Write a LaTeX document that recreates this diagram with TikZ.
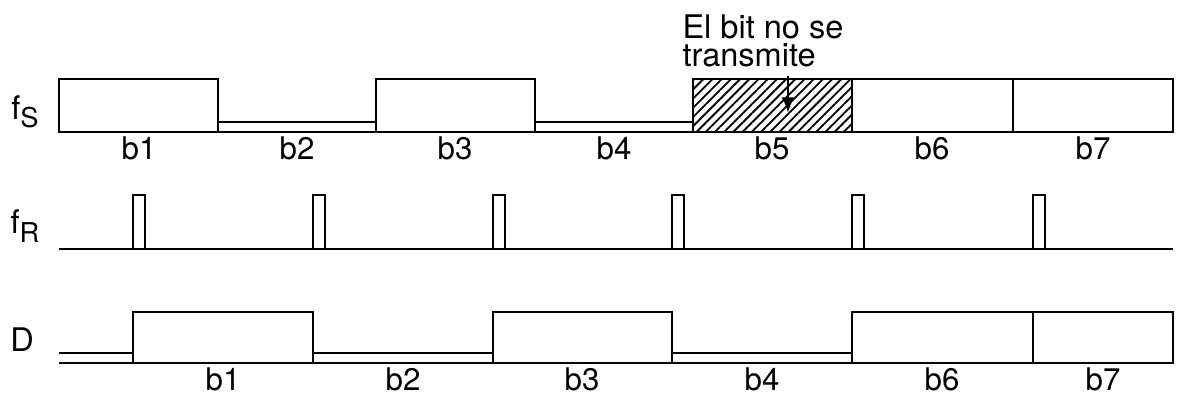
\documentclass[tikz,border=0pt]{standalone}
\usepackage{fontspec}
\setmainfont{TeX Gyre Heros}
\usetikzlibrary{patterns.meta,arrows.meta}

\newcommand{\sub}[1]{\raisebox{-0.5ex}{\fontsize{10.5}{10.5}\selectfont #1}}

\begin{document}
\begin{tikzpicture}[
		x=0.0135cm, y=-0.0135cm,
		sig/.style={line width=1.05pt},
		bit/.style={font=\fontsize{12}{14}\selectfont, anchor=base, inner sep=0pt},
		signame/.style={font=\fontsize{12.5}{14}\selectfont},
		hatched/.style={pattern={Lines[angle=45,distance=2.5pt,line width=0.7pt]}},
		pointer/.style={line width=1.05pt, -{Latex[length=6pt,width=5pt]}}]
	\useasboundingbox (0,0) rectangle (1185,396);
	% transmitter clock f_S
	\node[signame] (fs) at (25,112) {f\sub{S}};
	\draw[sig] (59,132) -- (1173,132);
	\foreach \a/\b in {59/218,376/535,852/1013,1013/1173}
		\draw[sig] (\a,79) rectangle (\b,132);
	\foreach \a/\b in {218/376,535/693}
		\draw[sig] (\a,122) -- (\b,122);
	\draw[sig,hatched] (693,79) rectangle (852,132);
	\foreach \x/\t in {139/b1,297/b2,455/b3,614/b4,772/b5,932/b6,1093/b7}
		\node[bit] (s\t) at (\x,160) {\t};
	\node[signame, align=left, anchor=north west, inner sep=0pt,
		font=\fontsize{12.5}{11}\selectfont] (note) at (682,14) {El bit no se\\transmite};
	\coordinate (tip) at (788,113);
	\draw[pointer] ([yshift=-3pt]note.south -| tip) -- (tip);
	% receiver clock f_R
	\node[signame] (fr) at (25,226) {f\sub{R}};
	\draw[sig] (59,249) -- (1173,249);
	\foreach \x in {133,313,493,672,852,1033}
		\draw[sig] (\x,249) rectangle (\x+12,195);
	% recovered data D
	\node[signame] (d) at (22,340) {D};
	\draw[sig] (59,363) -- (1173,363);
	\draw[sig] (59,353) -- (133,353);
	\foreach \a/\b in {133/313,493/672,852/1033,1033/1173}
		\draw[sig] (\a,312) rectangle (\b,363);
	\foreach \a/\b in {313/493,672/852}
		\draw[sig] (\a,353) -- (\b,353);
	\foreach \x/\t in {223/b1,403/b2,582/b3,762/b4,942/b6,1103/b7}
		\node[bit] (d\t) at (\x,391) {\t};
\end{tikzpicture}
\end{document}
